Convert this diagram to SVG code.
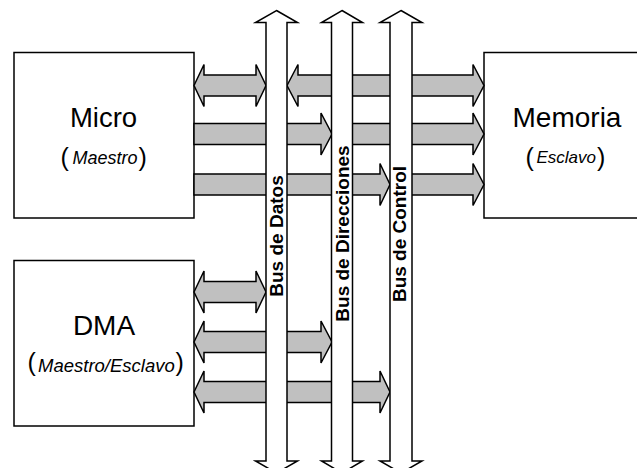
<svg xmlns="http://www.w3.org/2000/svg" width="637" height="468" viewBox="0 0 637 468">
<style>
.box{fill:#fff;stroke:#000;stroke-width:1.5}
.arr{fill:#c0c0c0;stroke:#000;stroke-width:1.5;stroke-linejoin:miter}
.bus{fill:#fff;stroke:#000;stroke-width:1.5;stroke-linejoin:miter}
.title{font-family:"Liberation Sans",Arial,sans-serif;font-size:27.5px;fill:#000}
.sub{font-family:"Liberation Sans",Arial,sans-serif;fill:#000}
.par{font-size:25px;font-style:normal}
.role{font-size:18px;font-style:italic}
.blabel{font-family:"Liberation Sans",Arial,sans-serif;font-size:19px;font-weight:bold;fill:#000}
</style>
<g id="micro">
<rect class="box" x="14" y="52.5" width="180" height="165.5"/>
<text class="title" x="103.5" y="126.7" text-anchor="middle">Micro</text>
<text class="sub"><tspan class="par" x="60.5" y="166.4">(</tspan><tspan class="role" x="72.5" y="164">Maestro</tspan><tspan class="par" x="138.5" y="166.4">)</tspan></text>
</g>
<g id="dma">
<rect class="box" x="14" y="260.5" width="180" height="165.5"/>
<text class="title" x="104" y="335" text-anchor="middle" style="font-size:28px">DMA</text>
<text class="sub"><tspan class="par" x="27.5" y="371.4">(</tspan><tspan class="role" x="38" y="371.7" style="font-size:18.5px">Maestro/Esclavo</tspan><tspan class="par" x="175.5" y="371.4">)</tspan></text>
</g>
<g id="memoria">
<rect class="box" x="484" y="52.5" width="170" height="165.5"/>
<text class="title" x="567" y="126.7" text-anchor="middle" style="font-size:28px">Memoria</text>
<text class="sub"><tspan class="par" x="525.5" y="166.4">(</tspan><tspan class="role" x="536.5" y="163" style="font-size:17px">Esclavo</tspan><tspan class="par" x="597" y="166.4">)</tspan></text>
</g>
<g id="connectors">
<polygon class="arr" points="194,85.5 204,64.5 204,75 256,75 256,64.5 266,85.5 256,106.5 256,96 204,96 204,106.5"/>
<polygon class="arr" points="287,85.5 298,64.5 298,75 473,75 473,64.5 484,85.5 473,106.5 473,96 298,96 298,106.5"/>
<polygon class="arr" points="194,123.5 321,123.5 321,113 332,134 321,155 321,144.5 194,144.5"/>
<polygon class="arr" points="345,123.5 473,123.5 473,113 484,134 473,155 473,144.5 345,144.5"/>
<polygon class="arr" points="194,174 380,174 380,163.5 390,184.5 380,205.5 380,195 194,195"/>
<polygon class="arr" points="405,174 473,174 473,163.5 484,184.5 473,205.5 473,195 405,195"/>
<polygon class="arr" points="194,292 204,271 204,281.5 256,281.5 256,271 266,292 256,313 256,302.5 204,302.5 204,313"/>
<polygon class="arr" points="194,342 204,321 204,331.5 321,331.5 321,321 332,342 321,363 321,352.5 204,352.5 204,363"/>
<polygon class="arr" points="194,392 204,371 204,381.5 380,381.5 380,371 390,392 380,413 380,402.5 204,402.5 204,413"/>
</g>
<g id="bus-datos">
<polygon class="bus" points="276.5,10.5 297.5,22.5 287,22.5 287,461 297.5,461 276.5,473 255.5,461 266,461 266,22.5 255.5,22.5"/>
<text class="blabel" transform="translate(283,236) rotate(-90)" text-anchor="middle">Bus de Datos</text>
</g>
<g id="bus-direcciones">
<polygon class="bus" points="342,10.5 362.5,22.5 352.5,22.5 352.5,461 362.5,461 342,473 321.5,461 331.5,461 331.5,22.5 321.5,22.5"/>
<text class="blabel" transform="translate(349,233.5) rotate(-90)" text-anchor="middle">Bus de Direcciones</text>
</g>
<g id="bus-control">
<polygon class="bus" points="401,10.5 422,22.5 412,22.5 412,461 422,461 401,473 380,461 390,461 390,22.5 380,22.5"/>
<text class="blabel" transform="translate(406,234) rotate(-90)" text-anchor="middle">Bus de Control</text>
</g>
</svg>
